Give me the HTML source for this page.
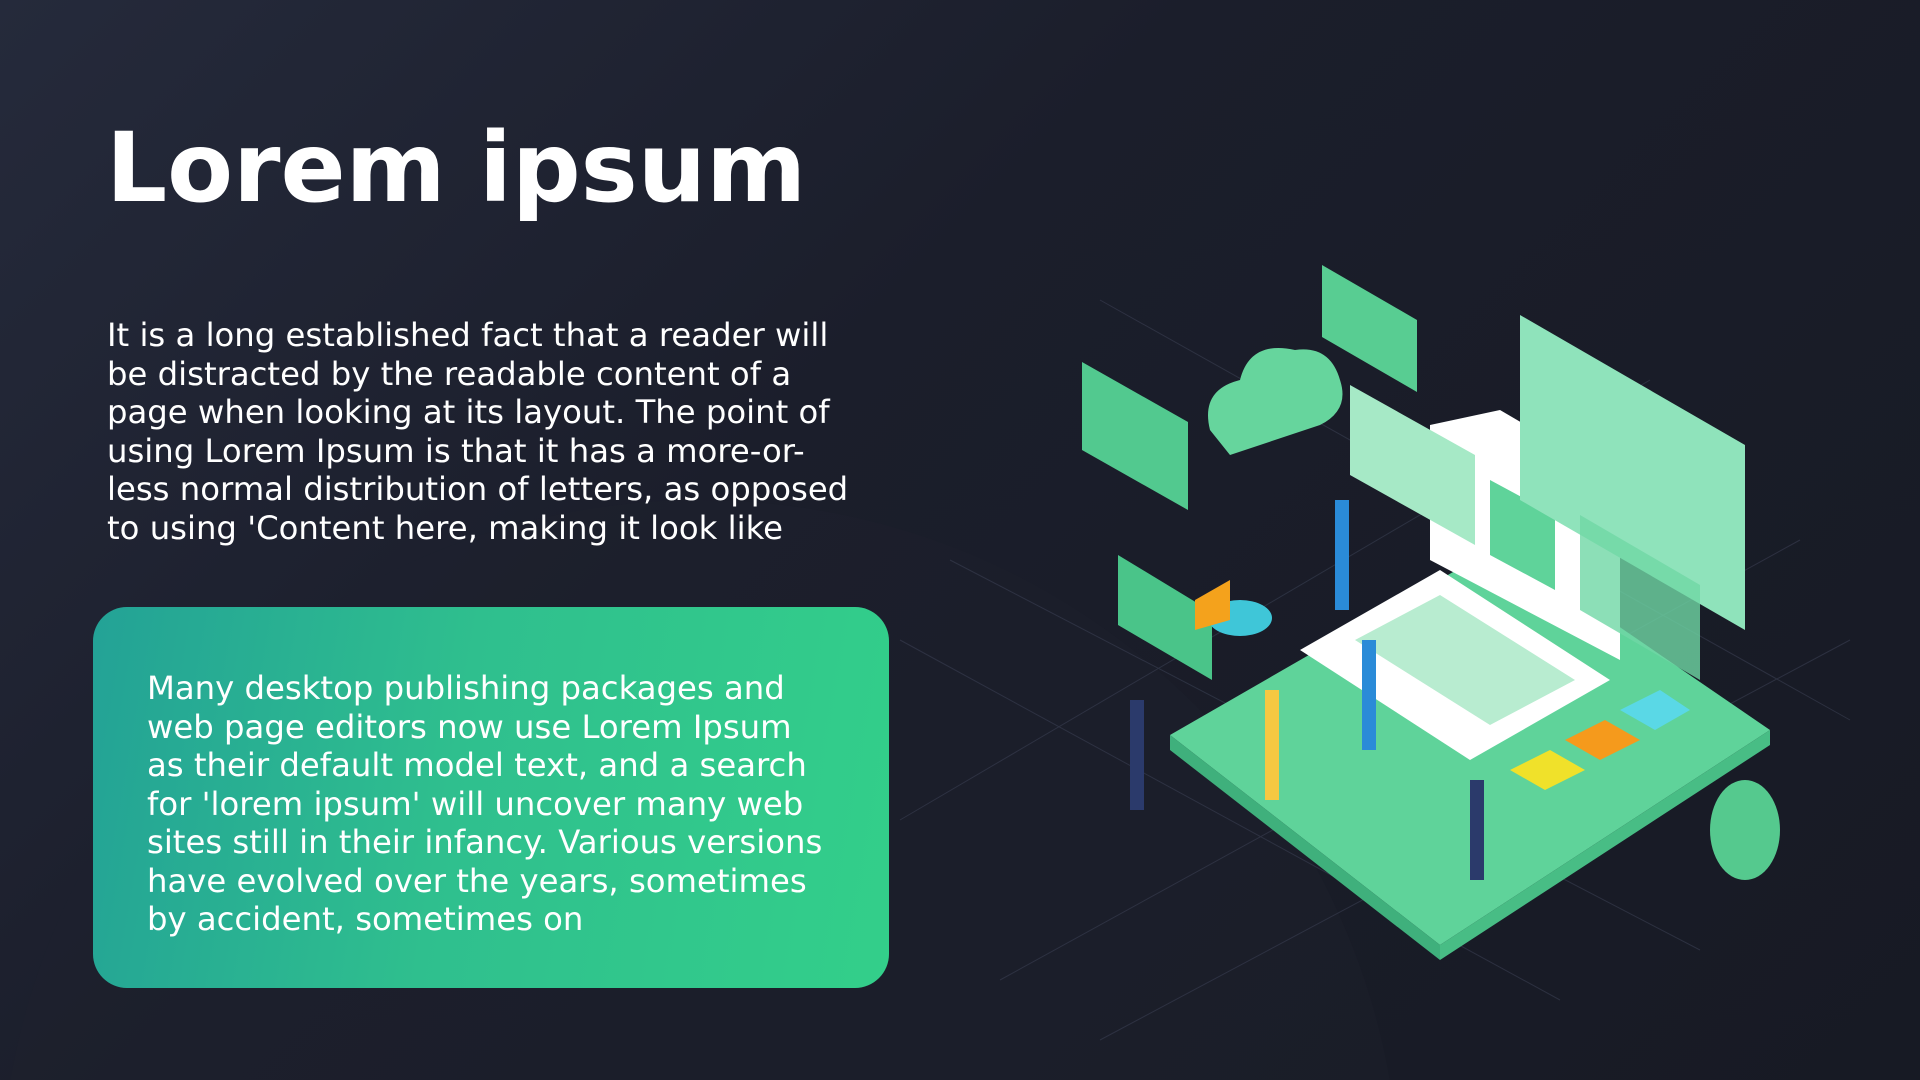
<!DOCTYPE html>
<html style="overflow:hidden"><head><meta charset="utf-8"><style>
*{margin:0;padding:0}
html,body{width:1920px;height:1080px;overflow:hidden}
body{position:relative;background:linear-gradient(135deg,#252a3b 0%,#1b1e2b 40%,#171a24 100%);font-family:"DejaVu Sans","Liberation Sans",sans-serif;color:#fff}
.title{position:absolute;left:106px;top:110px;font-size:96px;font-weight:bold;line-height:116px;white-space:nowrap}
.p{position:absolute;font-family:"DejaVu Sans","Liberation Sans",sans-serif;font-size:32.3px;line-height:38.5px;white-space:nowrap}
.box{position:absolute;left:93px;top:607px;width:796px;height:381px;border-radius:34px;background:linear-gradient(100deg,#23a296 0%,#2fbf8e 45%,#33cf8a 100%)}
</style></head><body>
<svg style="position:absolute;left:0;top:0;display:block" width="1920" height="1080">
<circle cx="700" cy="1200" r="700" fill="#1f222e" opacity="0.35"/>
<g stroke="#3a3f52" stroke-width="1" opacity="0.6">
<line x1="900" y1="640" x2="1560" y2="1000"/><line x1="950" y1="560" x2="1700" y2="950"/>
<line x1="1000" y1="980" x2="1800" y2="540"/><line x1="1100" y1="1040" x2="1850" y2="640"/>
<line x1="1100" y1="300" x2="1850" y2="720"/><line x1="900" y1="820" x2="1650" y2="380"/>
</g>
<polygon points="1170,735 1500,545 1770,730 1440,945" fill="#5fd39a"/>
<polygon points="1170,735 1440,945 1440,960 1170,750" fill="#3fb07c"/>
<polygon points="1440,945 1770,730 1770,745 1440,960" fill="#48bd85"/>
<polygon points="1300,650 1440,570 1610,680 1470,760" fill="#ffffff"/>
<polygon points="1355,640 1440,595 1575,680 1490,725" fill="#b8ecd0"/>
<polygon points="1430,425 1500,410 1620,480 1620,660 1430,560" fill="#ffffff"/>
<polygon points="1490,480 1555,515 1555,590 1490,555" fill="#5fd39a"/>
<polygon points="1520,315 1745,445 1745,630 1520,500" fill="#8fe3bb"/>
<polygon points="1580,515 1700,585 1700,680 1580,610" fill="#6fd7a5" opacity="0.8"/>
<polygon points="1350,385 1475,455 1475,545 1350,475" fill="#a6e9c6"/>
<polygon points="1082,362 1188,422 1188,510 1082,450" fill="#52c98f"/>
<polygon points="1322,265 1417,320 1417,392 1322,337" fill="#58cd92"/>
<polygon points="1118,555 1212,612 1212,680 1118,625" fill="#4ac489"/>
<path d="M1210,430 q-10,-40 30,-50 q10,-40 55,-30 q35,-5 45,30 q10,30 -20,45 l-90,30 z" fill="#66d59d"/>
<ellipse cx="1240" cy="618" rx="32" ry="18" fill="#3fc6d8"/>
<polygon points="1195,600 1230,580 1230,620 1195,630" fill="#f4a21c"/>
<polygon points="1510,770 1550,750 1585,770 1545,790" fill="#f0e12a"/>
<polygon points="1565,740 1605,720 1640,740 1600,760" fill="#f59a1c"/>
<polygon points="1620,710 1660,690 1690,710 1655,730" fill="#5ad8e6"/>
<ellipse cx="1745" cy="830" rx="35" ry="50" fill="#55c98e"/>
<rect x="1130" y="700" width="14" height="110" fill="#2b3a6b"/>
<rect x="1265" y="690" width="14" height="110" fill="#f5c842"/>
<rect x="1362" y="640" width="14" height="110" fill="#2a8bd8"/>
<rect x="1335" y="500" width="14" height="110" fill="#2a8bd8"/>
<rect x="1470" y="780" width="14" height="100" fill="#2b3a6b"/>
</svg>
<div class="title">Lorem ipsum</div>
<div class="p" style="left:107px;top:316px">It is a long established fact that a reader will<br>be distracted by the readable content of a<br>page when looking at its layout. The point of<br>using Lorem Ipsum is that it has a more-or-<br>less normal distribution of letters, as opposed<br>to using 'Content here, making it look like</div>
<div class="box"></div>
<div class="p" style="left:147px;top:669px">Many desktop publishing packages and<br>web page editors now use Lorem Ipsum<br>as their default model text, and a search<br>for 'lorem ipsum' will uncover many web<br>sites still in their infancy. Various versions<br>have evolved over the years, sometimes<br>by accident, sometimes on</div>
</body></html>
